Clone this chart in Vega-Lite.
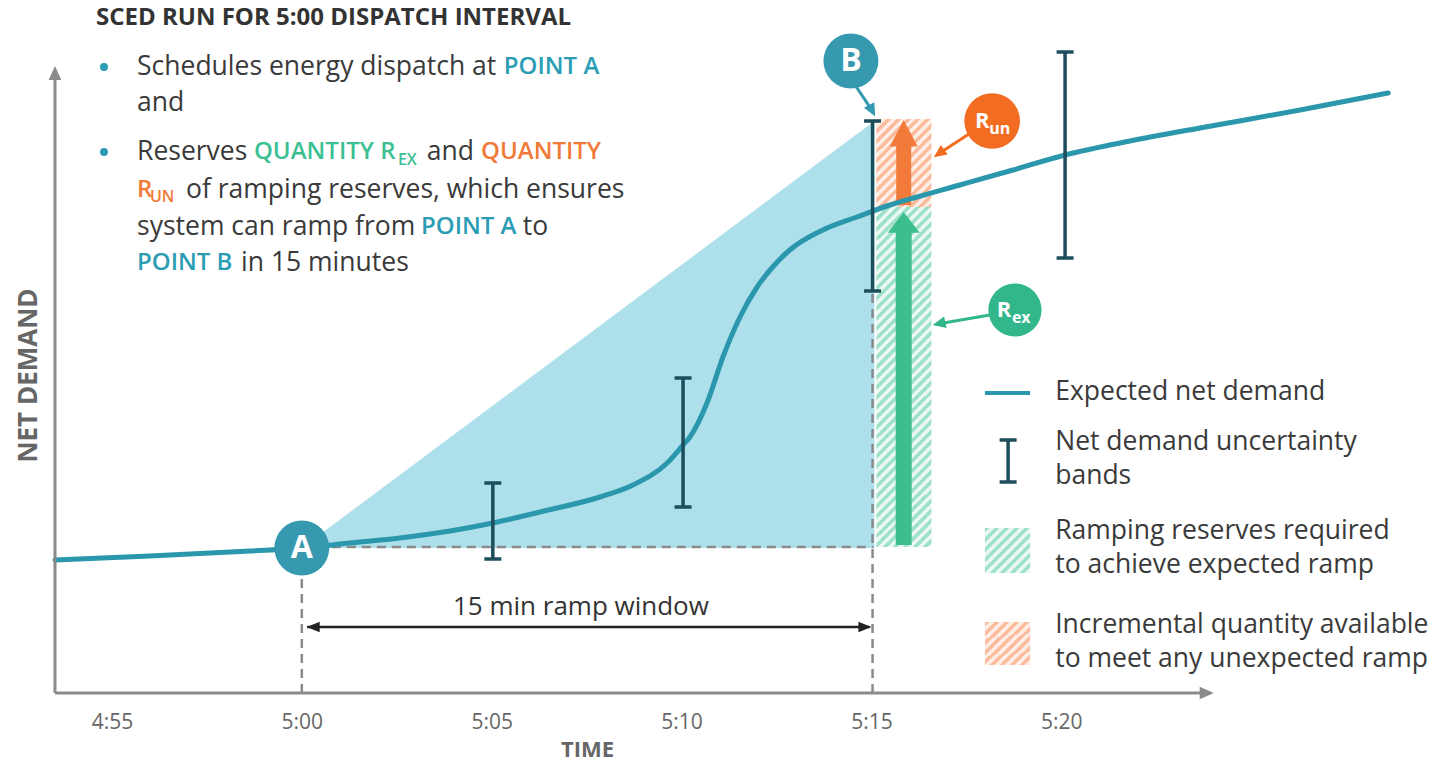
{
"$schema":"https://vega.github.io/schema/vega-lite/v6.json",
"width":1386,"height":693,
"autosize":{"type":"none"},
"padding":{"left":55,"top":0,"right":0,"bottom":70},
"background":"white",
"config":{"view":{"stroke":null},"font":"Open Sans","axis":{"labelFont":"Open Sans","titleFont":"Open Sans"}},
"datasets":{
"curve":[{"t":-6.5,"v":133},{"t":-4.0,"v":137},{"t":-1.36,"v":142},{"t":0,"v":145},{"t":1.26,"v":150},{"t":2.58,"v":155},{"t":3.9,"v":162},{"t":5.03,"v":170},{"t":6.27,"v":181},{"t":7.85,"v":196},{"t":8.72,"v":208},{"t":9.62,"v":230},{"t":10.04,"v":248},{"t":10.22,"v":256},{"t":10.67,"v":290},{"t":11.09,"v":336},{"t":11.54,"v":376},{"t":11.99,"v":406},{"t":12.4,"v":426},{"t":12.85,"v":443},{"t":13.72,"v":463},{"t":14.62,"v":476},{"t":15.49,"v":488},{"t":16.2,"v":496},{"t":17.33,"v":508},{"t":18.73,"v":523},{"t":20.1,"v":538},{"t":21.81,"v":552},{"t":23.65,"v":565},{"t":26.29,"v":583},{"t":28.61,"v":600}],
"tri":[{"t":0,"v":145,"v2":145},{"t":15.08,"v":572,"v2":145}],
"dash":[{"t":0,"t2":15.05,"v":146,"v2":146},{"t":0,"t2":0,"v":0,"v2":146},{"t":15.03,"t2":15.03,"v":0,"v2":402}],
"hatch":[{"part":"green","t":15.13,"t2":16.58,"v":146,"v2":486},{"part":"orange","t":15.13,"t2":16.58,"v":486,"v2":574},{"part":"lgreen","t":17.99,"t2":19.18,"v":120,"v2":165},{"part":"lorange","t":17.99,"t2":19.18,"v":28,"v2":71}],
"shaft":[{"part":"green","t":15.85,"v":148,"v2":462},{"part":"orange","t":15.85,"v":488,"v2":548}],
"bighead":[{"part":"green","t":15.85,"v":470.6},{"part":"orange","t":15.85,"v":560.4}],
"err":[{"t":5.03,"v":134,"v2":210},{"t":10.04,"v":186,"v2":315},{"t":15.03,"v":402,"v2":572},{"t":20.1,"v":435,"v2":641},{"t":18.6,"v":211,"v2":253}],
"axl":[{"t":-6.5,"t2":23.7,"v":0,"v2":0},{"t":-6.5,"t2":-6.5,"v":0,"v2":618}],
"lines":[{"part":"teal","t":14.57,"v":608,"t2":15.02,"v2":582.3},{"part":"orange","t":17.73,"v":563,"t2":16.78,"v2":539.5},{"part":"green","t":18.12,"v":378,"t2":16.78,"v2":369.3},{"part":"black","t":0.14,"v":66,"t2":14.95,"v2":66}],
"heads":[{"part":"axis","t":23.83,"v":0,"ang":90},{"part":"axis","t":-6.5,"v":620,"ang":0},{"part":"black","t":0.3,"v":66,"ang":270},{"part":"black","t":14.83,"v":66,"ang":90},{"part":"teal","t":15.02,"v":582.3,"ang":151.8},{"part":"orange","t":16.78,"v":539.5,"ang":234.6},{"part":"green","t":16.78,"v":369.3,"ang":257.5}],
"circ":[{"c":"teal","t":0,"v":145},{"c":"teal","t":14.46,"v":632},{"c":"orange","t":18.18,"v":572},{"c":"green","t":18.78,"v":383}],
"bul":[{"t":-5.21,"v":626},{"t":-5.21,"v":541}],
"lline":[{"t":17.99,"t2":19.18,"v":300}],
"txt":[
{"g":"title","t":-5.42,"v":675,"s":"SCED RUN FOR 5:00 DISPATCH INTERVAL"},
{"g":"body","t":-4.34,"v":626,"s":"Schedules energy dispatch at"},
{"g":"teal","t":5.32,"v":626,"s":"POINT A"},
{"g":"body","t":-4.34,"v":590,"s":"and"},
{"g":"body","t":-4.34,"v":541,"s":"Reserves"},
{"g":"green","t":-1.26,"v":541,"s":"QUANTITY R"},
{"g":"gsub","t":2.53,"v":533,"s":"EX"},
{"g":"body","t":3.29,"v":541,"s":"and"},
{"g":"orange","t":4.72,"v":541,"s":"QUANTITY"},
{"g":"orange","t":-4.34,"v":503,"s":"R"},
{"g":"osub","t":-4.0,"v":496,"s":"UN"},
{"g":"body","t":-3.05,"v":503,"s":"of ramping reserves, which ensures"},
{"g":"body","t":-4.34,"v":466,"s":"system can ramp from"},
{"g":"teal","t":3.14,"v":466,"s":"POINT A"},
{"g":"body","t":5.82,"v":466,"s":"to"},
{"g":"teal","t":-4.34,"v":430,"s":"POINT B"},
{"g":"body","t":-1.6,"v":430,"s":"in 15 minutes"},
{"g":"body","t":19.84,"v":301,"s":"Expected net demand"},
{"g":"body","t":19.84,"v":251,"s":"Net demand uncertainty"},
{"g":"body","t":19.84,"v":217,"s":"bands"},
{"g":"body","t":19.84,"v":162,"s":"Ramping reserves required"},
{"g":"body","t":19.84,"v":128,"s":"to achieve expected ramp"},
{"g":"body","t":19.84,"v":68,"s":"Incremental quantity available"},
{"g":"body","t":19.84,"v":34,"s":"to meet any unexpected ramp"},
{"g":"ramp","t":7.35,"v":86,"s":"15 min ramp window"},
{"g":"big","t":0,"v":145,"s":"A"},
{"g":"big","t":14.46,"v":632,"s":"B"},
{"g":"rbig","t":17.92,"v":572,"s":"R"},
{"g":"rsub","t":18.1,"v":564,"s":"un"},
{"g":"rbig","t":18.49,"v":383,"s":"R"},
{"g":"rsub","t":18.7,"v":375,"s":"ex"}
]
},
"encoding":{
"x":{"field":"t","type":"quantitative","scale":{"domain":[-6.5,30],"nice":false,"zero":false},
 "axis":{"values":[-5,0,5,10,15,20],"labelExpr":"datum.value < 0 ? '4:55' : '5:' + (datum.value < 10 ? '0' : '') + datum.value","domain":false,"ticks":false,"tickSize":0,"grid":false,"labelFontSize":21,"labelColor":"#666666","labelPadding":29,"labelBaseline":"middle","title":"TIME","titleFontSize":22,"titleFontWeight":"bold","titleColor":"#666666","titleX":532,"titleY":56,"titleBaseline":"middle","titleAlign":"center"}},
"y":{"field":"v","type":"quantitative","scale":{"domain":[0,693],"nice":false,"zero":false},
 "axis":{"domain":false,"ticks":false,"labels":false,"grid":false,"title":"NET DEMAND","titleFontSize":26,"titleFontWeight":"bold","titleColor":"#666666","titleX":-27,"titleY":375,"titleAngle":270,"titleAlign":"center","titleBaseline":"middle"}}
},
"layer":[
{"data":{"name":"tri"},"mark":{"type":"area","color":"#ade0ea","opacity":1},"encoding":{"y2":{"field":"v2"}}},
{"data":{"name":"dash"},"mark":{"type":"rule","color":"#8a8a8a","strokeWidth":2.5,"strokeDash":[9,6]},"encoding":{"x2":{"field":"t2"},"y2":{"field":"v2"}}},
{"data":{"name":"hatch"},"transform":[{"filter":"datum.part=='green'"}],"mark":{"type":"rect","color":{"gradient":"linear","x1":0,"y1":0,"x2":0.1836,"y2":1.135,"stops":[
{"offset":0,"color":"#a0e1c9"},{"offset":0.0125,"color":"#a0e1c9"},{"offset":0.0125,"color":"#e9f8f2"},{"offset":0.025,"color":"#e9f8f2"},
{"offset":0.025,"color":"#a0e1c9"},{"offset":0.0375,"color":"#a0e1c9"},{"offset":0.0375,"color":"#e9f8f2"},{"offset":0.05,"color":"#e9f8f2"},
{"offset":0.05,"color":"#a0e1c9"},{"offset":0.0625,"color":"#a0e1c9"},{"offset":0.0625,"color":"#e9f8f2"},{"offset":0.075,"color":"#e9f8f2"},
{"offset":0.075,"color":"#a0e1c9"},{"offset":0.0875,"color":"#a0e1c9"},{"offset":0.0875,"color":"#e9f8f2"},{"offset":0.1,"color":"#e9f8f2"},
{"offset":0.1,"color":"#a0e1c9"},{"offset":0.1125,"color":"#a0e1c9"},{"offset":0.1125,"color":"#e9f8f2"},{"offset":0.125,"color":"#e9f8f2"},
{"offset":0.125,"color":"#a0e1c9"},{"offset":0.1375,"color":"#a0e1c9"},{"offset":0.1375,"color":"#e9f8f2"},{"offset":0.15,"color":"#e9f8f2"},
{"offset":0.15,"color":"#a0e1c9"},{"offset":0.1625,"color":"#a0e1c9"},{"offset":0.1625,"color":"#e9f8f2"},{"offset":0.175,"color":"#e9f8f2"},
{"offset":0.175,"color":"#a0e1c9"},{"offset":0.1875,"color":"#a0e1c9"},{"offset":0.1875,"color":"#e9f8f2"},{"offset":0.2,"color":"#e9f8f2"},
{"offset":0.2,"color":"#a0e1c9"},{"offset":0.2125,"color":"#a0e1c9"},{"offset":0.2125,"color":"#e9f8f2"},{"offset":0.225,"color":"#e9f8f2"},
{"offset":0.225,"color":"#a0e1c9"},{"offset":0.2375,"color":"#a0e1c9"},{"offset":0.2375,"color":"#e9f8f2"},{"offset":0.25,"color":"#e9f8f2"},
{"offset":0.25,"color":"#a0e1c9"},{"offset":0.2625,"color":"#a0e1c9"},{"offset":0.2625,"color":"#e9f8f2"},{"offset":0.275,"color":"#e9f8f2"},
{"offset":0.275,"color":"#a0e1c9"},{"offset":0.2875,"color":"#a0e1c9"},{"offset":0.2875,"color":"#e9f8f2"},{"offset":0.3,"color":"#e9f8f2"},
{"offset":0.3,"color":"#a0e1c9"},{"offset":0.3125,"color":"#a0e1c9"},{"offset":0.3125,"color":"#e9f8f2"},{"offset":0.325,"color":"#e9f8f2"},
{"offset":0.325,"color":"#a0e1c9"},{"offset":0.3375,"color":"#a0e1c9"},{"offset":0.3375,"color":"#e9f8f2"},{"offset":0.35,"color":"#e9f8f2"},
{"offset":0.35,"color":"#a0e1c9"},{"offset":0.3625,"color":"#a0e1c9"},{"offset":0.3625,"color":"#e9f8f2"},{"offset":0.375,"color":"#e9f8f2"},
{"offset":0.375,"color":"#a0e1c9"},{"offset":0.3875,"color":"#a0e1c9"},{"offset":0.3875,"color":"#e9f8f2"},{"offset":0.4,"color":"#e9f8f2"},
{"offset":0.4,"color":"#a0e1c9"},{"offset":0.4125,"color":"#a0e1c9"},{"offset":0.4125,"color":"#e9f8f2"},{"offset":0.425,"color":"#e9f8f2"},
{"offset":0.425,"color":"#a0e1c9"},{"offset":0.4375,"color":"#a0e1c9"},{"offset":0.4375,"color":"#e9f8f2"},{"offset":0.45,"color":"#e9f8f2"},
{"offset":0.45,"color":"#a0e1c9"},{"offset":0.4625,"color":"#a0e1c9"},{"offset":0.4625,"color":"#e9f8f2"},{"offset":0.475,"color":"#e9f8f2"},
{"offset":0.475,"color":"#a0e1c9"},{"offset":0.4875,"color":"#a0e1c9"},{"offset":0.4875,"color":"#e9f8f2"},{"offset":0.5,"color":"#e9f8f2"},
{"offset":0.5,"color":"#a0e1c9"},{"offset":0.5125,"color":"#a0e1c9"},{"offset":0.5125,"color":"#e9f8f2"},{"offset":0.525,"color":"#e9f8f2"},
{"offset":0.525,"color":"#a0e1c9"},{"offset":0.5375,"color":"#a0e1c9"},{"offset":0.5375,"color":"#e9f8f2"},{"offset":0.55,"color":"#e9f8f2"},
{"offset":0.55,"color":"#a0e1c9"},{"offset":0.5625,"color":"#a0e1c9"},{"offset":0.5625,"color":"#e9f8f2"},{"offset":0.575,"color":"#e9f8f2"},
{"offset":0.575,"color":"#a0e1c9"},{"offset":0.5875,"color":"#a0e1c9"},{"offset":0.5875,"color":"#e9f8f2"},{"offset":0.6,"color":"#e9f8f2"},
{"offset":0.6,"color":"#a0e1c9"},{"offset":0.6125,"color":"#a0e1c9"},{"offset":0.6125,"color":"#e9f8f2"},{"offset":0.625,"color":"#e9f8f2"},
{"offset":0.625,"color":"#a0e1c9"},{"offset":0.6375,"color":"#a0e1c9"},{"offset":0.6375,"color":"#e9f8f2"},{"offset":0.65,"color":"#e9f8f2"},
{"offset":0.65,"color":"#a0e1c9"},{"offset":0.6625,"color":"#a0e1c9"},{"offset":0.6625,"color":"#e9f8f2"},{"offset":0.675,"color":"#e9f8f2"},
{"offset":0.675,"color":"#a0e1c9"},{"offset":0.6875,"color":"#a0e1c9"},{"offset":0.6875,"color":"#e9f8f2"},{"offset":0.7,"color":"#e9f8f2"},
{"offset":0.7,"color":"#a0e1c9"},{"offset":0.7125,"color":"#a0e1c9"},{"offset":0.7125,"color":"#e9f8f2"},{"offset":0.725,"color":"#e9f8f2"},
{"offset":0.725,"color":"#a0e1c9"},{"offset":0.7375,"color":"#a0e1c9"},{"offset":0.7375,"color":"#e9f8f2"},{"offset":0.75,"color":"#e9f8f2"},
{"offset":0.75,"color":"#a0e1c9"},{"offset":0.7625,"color":"#a0e1c9"},{"offset":0.7625,"color":"#e9f8f2"},{"offset":0.775,"color":"#e9f8f2"},
{"offset":0.775,"color":"#a0e1c9"},{"offset":0.7875,"color":"#a0e1c9"},{"offset":0.7875,"color":"#e9f8f2"},{"offset":0.8,"color":"#e9f8f2"},
{"offset":0.8,"color":"#a0e1c9"},{"offset":0.8125,"color":"#a0e1c9"},{"offset":0.8125,"color":"#e9f8f2"},{"offset":0.825,"color":"#e9f8f2"},
{"offset":0.825,"color":"#a0e1c9"},{"offset":0.8375,"color":"#a0e1c9"},{"offset":0.8375,"color":"#e9f8f2"},{"offset":0.85,"color":"#e9f8f2"},
{"offset":0.85,"color":"#a0e1c9"},{"offset":0.8625,"color":"#a0e1c9"},{"offset":0.8625,"color":"#e9f8f2"},{"offset":0.875,"color":"#e9f8f2"},
{"offset":0.875,"color":"#a0e1c9"},{"offset":0.8875,"color":"#a0e1c9"},{"offset":0.8875,"color":"#e9f8f2"},{"offset":0.9,"color":"#e9f8f2"},
{"offset":0.9,"color":"#a0e1c9"},{"offset":0.9125,"color":"#a0e1c9"},{"offset":0.9125,"color":"#e9f8f2"},{"offset":0.925,"color":"#e9f8f2"},
{"offset":0.925,"color":"#a0e1c9"},{"offset":0.9375,"color":"#a0e1c9"},{"offset":0.9375,"color":"#e9f8f2"},{"offset":0.95,"color":"#e9f8f2"},
{"offset":0.95,"color":"#a0e1c9"},{"offset":0.9625,"color":"#a0e1c9"},{"offset":0.9625,"color":"#e9f8f2"},{"offset":0.975,"color":"#e9f8f2"},
{"offset":0.975,"color":"#a0e1c9"},{"offset":0.9875,"color":"#a0e1c9"},{"offset":0.9875,"color":"#e9f8f2"},{"offset":1,"color":"#e9f8f2"}
]}},"encoding":{"x2":{"field":"t2"},"y2":{"field":"v2"}}},
{"data":{"name":"hatch"},"transform":[{"filter":"datum.part=='lgreen'"}],"mark":{"type":"rect","color":{"gradient":"linear","x1":0,"y1":0,"x2":4.4,"y2":4.4,"stops":[
{"offset":0,"color":"#a0e1c9"},{"offset":0.0125,"color":"#a0e1c9"},{"offset":0.0125,"color":"#e9f8f2"},{"offset":0.025,"color":"#e9f8f2"},
{"offset":0.025,"color":"#a0e1c9"},{"offset":0.0375,"color":"#a0e1c9"},{"offset":0.0375,"color":"#e9f8f2"},{"offset":0.05,"color":"#e9f8f2"},
{"offset":0.05,"color":"#a0e1c9"},{"offset":0.0625,"color":"#a0e1c9"},{"offset":0.0625,"color":"#e9f8f2"},{"offset":0.075,"color":"#e9f8f2"},
{"offset":0.075,"color":"#a0e1c9"},{"offset":0.0875,"color":"#a0e1c9"},{"offset":0.0875,"color":"#e9f8f2"},{"offset":0.1,"color":"#e9f8f2"},
{"offset":0.1,"color":"#a0e1c9"},{"offset":0.1125,"color":"#a0e1c9"},{"offset":0.1125,"color":"#e9f8f2"},{"offset":0.125,"color":"#e9f8f2"},
{"offset":0.125,"color":"#a0e1c9"},{"offset":0.1375,"color":"#a0e1c9"},{"offset":0.1375,"color":"#e9f8f2"},{"offset":0.15,"color":"#e9f8f2"},
{"offset":0.15,"color":"#a0e1c9"},{"offset":0.1625,"color":"#a0e1c9"},{"offset":0.1625,"color":"#e9f8f2"},{"offset":0.175,"color":"#e9f8f2"},
{"offset":0.175,"color":"#a0e1c9"},{"offset":0.1875,"color":"#a0e1c9"},{"offset":0.1875,"color":"#e9f8f2"},{"offset":0.2,"color":"#e9f8f2"},
{"offset":0.2,"color":"#a0e1c9"},{"offset":0.2125,"color":"#a0e1c9"},{"offset":0.2125,"color":"#e9f8f2"},{"offset":0.225,"color":"#e9f8f2"},
{"offset":0.225,"color":"#a0e1c9"},{"offset":0.2375,"color":"#a0e1c9"},{"offset":0.2375,"color":"#e9f8f2"},{"offset":0.25,"color":"#e9f8f2"}
]}},"encoding":{"x2":{"field":"t2"},"y2":{"field":"v2"}}},
{"data":{"name":"hatch"},"transform":[{"filter":"datum.part=='orange'"}],"mark":{"type":"rect","color":{"gradient":"linear","x1":0,"y1":0,"x2":2.022,"y2":3.236,"stops":[
{"offset":0,"color":"#f9bc9c"},{"offset":0.0125,"color":"#f9bc9c"},{"offset":0.0125,"color":"#feede4"},{"offset":0.025,"color":"#feede4"},
{"offset":0.025,"color":"#f9bc9c"},{"offset":0.0375,"color":"#f9bc9c"},{"offset":0.0375,"color":"#feede4"},{"offset":0.05,"color":"#feede4"},
{"offset":0.05,"color":"#f9bc9c"},{"offset":0.0625,"color":"#f9bc9c"},{"offset":0.0625,"color":"#feede4"},{"offset":0.075,"color":"#feede4"},
{"offset":0.075,"color":"#f9bc9c"},{"offset":0.0875,"color":"#f9bc9c"},{"offset":0.0875,"color":"#feede4"},{"offset":0.1,"color":"#feede4"},
{"offset":0.1,"color":"#f9bc9c"},{"offset":0.1125,"color":"#f9bc9c"},{"offset":0.1125,"color":"#feede4"},{"offset":0.125,"color":"#feede4"},
{"offset":0.125,"color":"#f9bc9c"},{"offset":0.1375,"color":"#f9bc9c"},{"offset":0.1375,"color":"#feede4"},{"offset":0.15,"color":"#feede4"},
{"offset":0.15,"color":"#f9bc9c"},{"offset":0.1625,"color":"#f9bc9c"},{"offset":0.1625,"color":"#feede4"},{"offset":0.175,"color":"#feede4"},
{"offset":0.175,"color":"#f9bc9c"},{"offset":0.1875,"color":"#f9bc9c"},{"offset":0.1875,"color":"#feede4"},{"offset":0.2,"color":"#feede4"},
{"offset":0.2,"color":"#f9bc9c"},{"offset":0.2125,"color":"#f9bc9c"},{"offset":0.2125,"color":"#feede4"},{"offset":0.225,"color":"#feede4"},
{"offset":0.225,"color":"#f9bc9c"},{"offset":0.2375,"color":"#f9bc9c"},{"offset":0.2375,"color":"#feede4"},{"offset":0.25,"color":"#feede4"},
{"offset":0.25,"color":"#f9bc9c"},{"offset":0.2625,"color":"#f9bc9c"},{"offset":0.2625,"color":"#feede4"},{"offset":0.275,"color":"#feede4"},
{"offset":0.275,"color":"#f9bc9c"},{"offset":0.2875,"color":"#f9bc9c"},{"offset":0.2875,"color":"#feede4"},{"offset":0.3,"color":"#feede4"},
{"offset":0.3,"color":"#f9bc9c"},{"offset":0.3125,"color":"#f9bc9c"},{"offset":0.3125,"color":"#feede4"},{"offset":0.325,"color":"#feede4"},
{"offset":0.325,"color":"#f9bc9c"},{"offset":0.3375,"color":"#f9bc9c"},{"offset":0.3375,"color":"#feede4"},{"offset":0.35,"color":"#feede4"},
{"offset":0.35,"color":"#f9bc9c"},{"offset":0.3625,"color":"#f9bc9c"},{"offset":0.3625,"color":"#feede4"},{"offset":0.375,"color":"#feede4"}
]}},"encoding":{"x2":{"field":"t2"},"y2":{"field":"v2"}}},
{"data":{"name":"hatch"},"transform":[{"filter":"datum.part=='lorange'"}],"mark":{"type":"rect","color":{"gradient":"linear","x1":0,"y1":0,"x2":4.4,"y2":4.4,"stops":[
{"offset":0,"color":"#f9bc9c"},{"offset":0.0125,"color":"#f9bc9c"},{"offset":0.0125,"color":"#feede4"},{"offset":0.025,"color":"#feede4"},
{"offset":0.025,"color":"#f9bc9c"},{"offset":0.0375,"color":"#f9bc9c"},{"offset":0.0375,"color":"#feede4"},{"offset":0.05,"color":"#feede4"},
{"offset":0.05,"color":"#f9bc9c"},{"offset":0.0625,"color":"#f9bc9c"},{"offset":0.0625,"color":"#feede4"},{"offset":0.075,"color":"#feede4"},
{"offset":0.075,"color":"#f9bc9c"},{"offset":0.0875,"color":"#f9bc9c"},{"offset":0.0875,"color":"#feede4"},{"offset":0.1,"color":"#feede4"},
{"offset":0.1,"color":"#f9bc9c"},{"offset":0.1125,"color":"#f9bc9c"},{"offset":0.1125,"color":"#feede4"},{"offset":0.125,"color":"#feede4"},
{"offset":0.125,"color":"#f9bc9c"},{"offset":0.1375,"color":"#f9bc9c"},{"offset":0.1375,"color":"#feede4"},{"offset":0.15,"color":"#feede4"},
{"offset":0.15,"color":"#f9bc9c"},{"offset":0.1625,"color":"#f9bc9c"},{"offset":0.1625,"color":"#feede4"},{"offset":0.175,"color":"#feede4"},
{"offset":0.175,"color":"#f9bc9c"},{"offset":0.1875,"color":"#f9bc9c"},{"offset":0.1875,"color":"#feede4"},{"offset":0.2,"color":"#feede4"},
{"offset":0.2,"color":"#f9bc9c"},{"offset":0.2125,"color":"#f9bc9c"},{"offset":0.2125,"color":"#feede4"},{"offset":0.225,"color":"#feede4"},
{"offset":0.225,"color":"#f9bc9c"},{"offset":0.2375,"color":"#f9bc9c"},{"offset":0.2375,"color":"#feede4"},{"offset":0.25,"color":"#feede4"}
]}},"encoding":{"x2":{"field":"t2"},"y2":{"field":"v2"}}},
{"data":{"name":"shaft"},"transform":[{"filter":"datum.part=='green'"}],"mark":{"type":"rule","color":"#3dbe8f","strokeWidth":16},"encoding":{"y2":{"field":"v2"}}},
{"data":{"name":"shaft"},"transform":[{"filter":"datum.part=='orange'"}],"mark":{"type":"rule","color":"#f27b3b","strokeWidth":15},"encoding":{"y2":{"field":"v2"}}},
{"data":{"name":"bighead"},"transform":[{"filter":"datum.part=='green'"}],"mark":{"type":"point","shape":"M-1,0.65L0,-0.65L1,0.65Z","size":1024,"filled":true,"opacity":1,"color":"#3dbe8f"}},
{"data":{"name":"bighead"},"transform":[{"filter":"datum.part=='orange'"}],"mark":{"type":"point","shape":"M-1,1L0,-0.9L1,1Z","size":784,"filled":true,"opacity":1,"color":"#f27b3b"}},
{"data":{"name":"curve"},"mark":{"type":"line","color":"#2a97ac","strokeWidth":5,"interpolate":"monotone","strokeCap":"round"}},
{"data":{"name":"err"},"mark":{"type":"rule","color":"#1c4e5b","strokeWidth":3.5},"encoding":{"y2":{"field":"v2"}}},
{"data":{"name":"err"},"mark":{"type":"tick","orient":"horizontal","color":"#1c4e5b","size":17,"thickness":3.5,"opacity":1}},
{"data":{"name":"err"},"mark":{"type":"tick","orient":"horizontal","color":"#1c4e5b","size":17,"thickness":3.5,"opacity":1},"encoding":{"y":{"field":"v2","type":"quantitative"}}},
{"data":{"name":"axl"},"mark":{"type":"rule","color":"#8a8a8a","strokeWidth":3},"encoding":{"x2":{"field":"t2"},"y2":{"field":"v2"}}},
{"data":{"name":"lines"},"transform":[{"filter":"datum.part=='black'"}],"mark":{"type":"rule","color":"#222222","strokeWidth":2.5},"encoding":{"x2":{"field":"t2"},"y2":{"field":"v2"}}},
{"data":{"name":"lines"},"transform":[{"filter":"datum.part=='teal'"}],"mark":{"type":"rule","color":"#3399ae","strokeWidth":3},"encoding":{"x2":{"field":"t2"},"y2":{"field":"v2"}}},
{"data":{"name":"lines"},"transform":[{"filter":"datum.part=='orange'"}],"mark":{"type":"rule","color":"#f26c22","strokeWidth":3},"encoding":{"x2":{"field":"t2"},"y2":{"field":"v2"}}},
{"data":{"name":"lines"},"transform":[{"filter":"datum.part=='green'"}],"mark":{"type":"rule","color":"#32b68b","strokeWidth":3},"encoding":{"x2":{"field":"t2"},"y2":{"field":"v2"}}},
{"data":{"name":"heads"},"transform":[{"filter":"datum.part=='axis'"}],"mark":{"type":"point","shape":"M0,-1L0.9,1L-0.9,1Z","size":196,"filled":true,"opacity":1,"color":"#8a8a8a"},"encoding":{"angle":{"field":"ang","type":"quantitative","scale":null}}},
{"data":{"name":"heads"},"transform":[{"filter":"datum.part=='black'"}],"mark":{"type":"point","shape":"M0,-1L0.8,1L-0.8,1Z","size":169,"filled":true,"opacity":1,"color":"#222222"},"encoding":{"angle":{"field":"ang","type":"quantitative","scale":null}}},
{"data":{"name":"heads"},"transform":[{"filter":"datum.part=='teal'"}],"mark":{"type":"point","shape":"M0,-1L0.9,1L-0.9,1Z","size":169,"filled":true,"opacity":1,"color":"#3399ae"},"encoding":{"angle":{"field":"ang","type":"quantitative","scale":null}}},
{"data":{"name":"heads"},"transform":[{"filter":"datum.part=='orange'"}],"mark":{"type":"point","shape":"M0,-1L0.9,1L-0.9,1Z","size":169,"filled":true,"opacity":1,"color":"#f26c22"},"encoding":{"angle":{"field":"ang","type":"quantitative","scale":null}}},
{"data":{"name":"heads"},"transform":[{"filter":"datum.part=='green'"}],"mark":{"type":"point","shape":"M0,-1L0.9,1L-0.9,1Z","size":169,"filled":true,"opacity":1,"color":"#32b68b"},"encoding":{"angle":{"field":"ang","type":"quantitative","scale":null}}},
{"data":{"name":"circ"},"transform":[{"filter":"datum.c=='teal'"}],"mark":{"type":"point","shape":"circle","size":3019,"filled":true,"opacity":1,"color":"#3699af"}},
{"data":{"name":"circ"},"transform":[{"filter":"datum.c=='orange'"}],"mark":{"type":"point","shape":"circle","size":3100,"filled":true,"opacity":1,"color":"#f26c22"}},
{"data":{"name":"circ"},"transform":[{"filter":"datum.c=='green'"}],"mark":{"type":"point","shape":"circle","size":2830,"filled":true,"opacity":1,"color":"#32b68b"}},
{"data":{"name":"bul"},"mark":{"type":"point","shape":"circle","size":64,"filled":true,"opacity":1,"color":"#2a9db5"}},
{"data":{"name":"lline"},"mark":{"type":"rule","color":"#2a97ac","strokeWidth":4},"encoding":{"x2":{"field":"t2"}}},
{"data":{"name":"txt"},"transform":[{"filter":"datum.g=='title'"}],"mark":{"type":"text","align":"left","baseline":"middle","fontSize":24,"fontWeight":"bold","color":"#333333"},"encoding":{"text":{"field":"s"}}},
{"data":{"name":"txt"},"transform":[{"filter":"datum.g=='body'"}],"mark":{"type":"text","align":"left","baseline":"middle","fontSize":26.5,"color":"#3a3a3a"},"encoding":{"text":{"field":"s"}}},
{"data":{"name":"txt"},"transform":[{"filter":"datum.g=='teal'"}],"mark":{"type":"text","align":"left","baseline":"middle","fontSize":24,"fontWeight":600,"color":"#2a9db5"},"encoding":{"text":{"field":"s"}}},
{"data":{"name":"txt"},"transform":[{"filter":"datum.g=='green'"}],"mark":{"type":"text","align":"left","baseline":"middle","fontSize":24,"fontWeight":600,"color":"#3dbf94"},"encoding":{"text":{"field":"s"}}},
{"data":{"name":"txt"},"transform":[{"filter":"datum.g=='orange'"}],"mark":{"type":"text","align":"left","baseline":"middle","fontSize":24,"fontWeight":600,"color":"#f07a38"},"encoding":{"text":{"field":"s"}}},
{"data":{"name":"txt"},"transform":[{"filter":"datum.g=='gsub'"}],"mark":{"type":"text","align":"left","baseline":"middle","fontSize":16,"fontWeight":600,"color":"#3dbf94"},"encoding":{"text":{"field":"s"}}},
{"data":{"name":"txt"},"transform":[{"filter":"datum.g=='osub'"}],"mark":{"type":"text","align":"left","baseline":"middle","fontSize":16,"fontWeight":600,"color":"#f07a38"},"encoding":{"text":{"field":"s"}}},
{"data":{"name":"txt"},"transform":[{"filter":"datum.g=='ramp'"}],"mark":{"type":"text","align":"center","baseline":"middle","fontSize":26,"color":"#333333"},"encoding":{"text":{"field":"s"}}},
{"data":{"name":"txt"},"transform":[{"filter":"datum.g=='big'"}],"mark":{"type":"text","align":"center","baseline":"middle","fontSize":32,"fontWeight":"bold","color":"white"},"encoding":{"text":{"field":"s"}}},
{"data":{"name":"txt"},"transform":[{"filter":"datum.g=='rbig'"}],"mark":{"type":"text","align":"center","baseline":"middle","fontSize":22,"fontWeight":"bold","color":"white"},"encoding":{"text":{"field":"s"}}},
{"data":{"name":"txt"},"transform":[{"filter":"datum.g=='rsub'"}],"mark":{"type":"text","align":"left","baseline":"middle","fontSize":16,"fontWeight":"bold","color":"white"},"encoding":{"text":{"field":"s"}}}
]
}
